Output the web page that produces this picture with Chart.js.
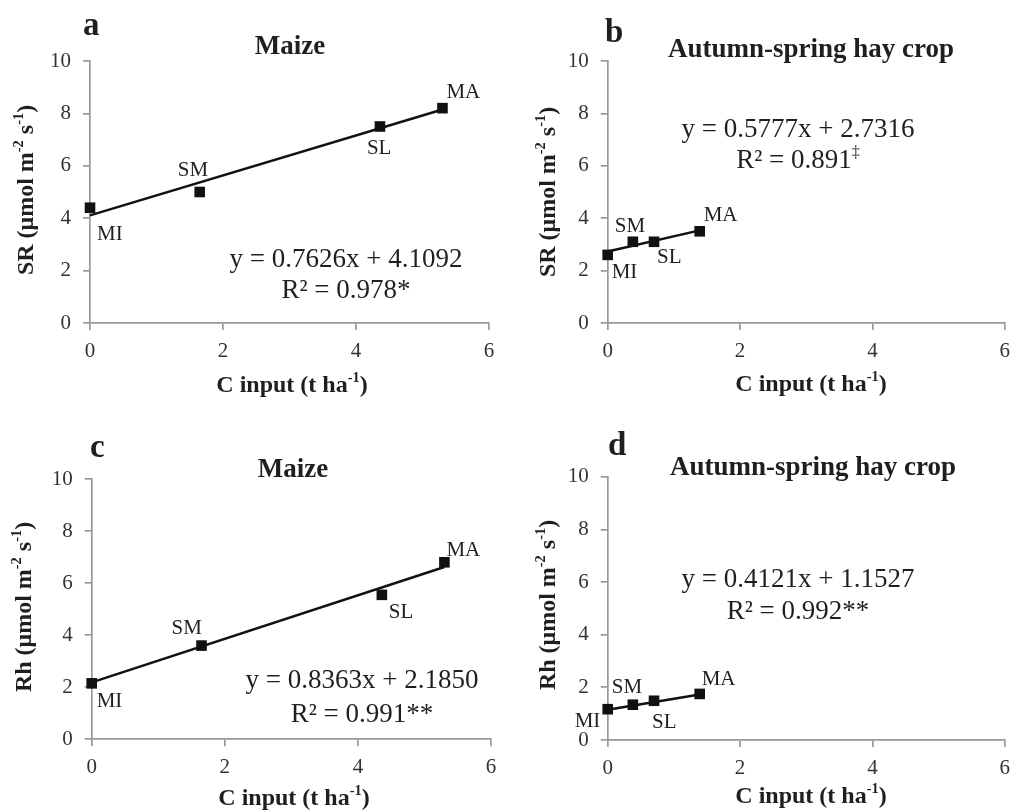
<!DOCTYPE html>
<html>
<head>
<meta charset="utf-8">
<script src="https://cdn.jsdelivr.net/npm/chart.js@4.4.0/dist/chart.umd.min.js"></script>
<style>
  body { margin: 0; background: #fff; }
  #wrap { position: relative; width: 1019px; height: 810px; }
  .panel { position: absolute; width: 509px; height: 405px; }
</style>
</head>
<body>
<div id="wrap">
  <div class="panel" style="left:0;top:0"><canvas id="pa" width="509" height="405"></canvas></div>
  <div class="panel" style="left:510px;top:0"><canvas id="pb" width="509" height="405"></canvas></div>
  <div class="panel" style="left:0;top:405px"><canvas id="pc" width="509" height="405"></canvas></div>
  <div class="panel" style="left:510px;top:405px"><canvas id="pd" width="509" height="405"></canvas></div>
</div>
<script>
// treatments and values
const treatments = ['MI', 'SM', 'SL', 'MA'];
const maizeInput = [0, 1.65, 4.36, 5.30];
const hayInput = [0, 0.38, 0.70, 1.39];
const maizeSR = [4.4, 5.0, 7.5, 8.2];
const haySR = [2.6, 3.1, 3.1, 3.5];
const maizeRh = [2.15, 3.6, 5.55, 6.8];
const hayRh = [1.17, 1.34, 1.49, 1.75];

// regression lines printed on each panel
const slopes = [0.7626, 0.5777, 0.8363, 0.4121];
const intercepts = [4.1092, 2.7316, 2.1850, 1.1527];
const r2Values = ['0.978', '0.891', '0.991', '0.992'];
const significance = ['*', '‡', '**', '**'];

const xTicks = [0, 2, 4, 6];
const yTicks = [0, 2, 4, 6, 8, 10];

const panels = [
  { id: 'pa', letter: 'a', title: 'Maize', yName: 'SR', xs: maizeInput, ys: maizeSR },
  { id: 'pb', letter: 'b', title: 'Autumn-spring hay crop', yName: 'SR', xs: hayInput, ys: haySR },
  { id: 'pc', letter: 'c', title: 'Maize', yName: 'Rh', xs: maizeInput, ys: maizeRh },
  { id: 'pd', letter: 'd', title: 'Autumn-spring hay crop', yName: 'Rh', xs: hayInput, ys: hayRh }
];

// pixel layout of each panel (canvas-local)
const frames = [
  { area: [90, 61, 489, 323], letter: [83, 35], title: [290, 54], yTitle: [33, 190], xTitle: [292, 392], eq: [346, 267, 298],
    labels: [[7, 32], [-22, -16], [-13, 27], [4, -10]] },
  { area: [97.7, 61, 501.7, 323], letter: [95, 42], title: [301, 57], yTitle: [45, 192], xTitle: [301, 391], eq: [288, 137, 168],
    labels: [[4, 23], [-18, -10], [3, 21], [4, -10]] },
  { area: [91.7, 74, 491, 334.3], letter: [90, 52], title: [293, 72], yTitle: [31, 202], xTitle: [294, 400], eq: [362, 283, 317],
    labels: [[5, 24], [-30, -12], [7, 23], [2, -6]] },
  { area: [97.7, 71.7, 502, 335], letter: [98, 50], title: [303, 70], yTitle: [45, 200], xTitle: [301, 398], eq: [288, 182, 214],
    labels: [[-33, 18], [-21, -12], [-2, 27], [2, -9]] }
];

const SERIF = '"Liberation Serif", "Times New Roman", serif';
const INK = '#1f1f1f';
const AXIS = '#999999';

function font(size, bold) {
  return (bold ? 'bold ' : '') + size + 'px ' + SERIF;
}

// draw text made of normal and superscript pieces
function drawRich(ctx, parts, x, y, size, bold, center) {
  let total = 0;
  parts.forEach(([t, sup]) => {
    ctx.font = font(sup ? size * 0.6 : size, bold);
    total += ctx.measureText(t).width;
  });
  let cx = center ? x - total / 2 : x;
  ctx.textAlign = 'left';
  ctx.textBaseline = 'alphabetic';
  parts.forEach(([t, sup]) => {
    ctx.font = font(sup ? size * 0.6 : size, bold);
    ctx.fillText(t, cx, sup ? y - size * 0.4 : y);
    cx += ctx.measureText(t).width;
  });
}

function decor(i) {
  const p = panels[i];
  const f = frames[i];
  return {
    id: 'decor' + i,
    afterDraw(chart) {
      const ctx = chart.ctx;
      const xs = chart.scales.x, ys = chart.scales.y;
      ctx.save();
      ctx.fillStyle = INK;

      ctx.font = font(33, true);
      ctx.textAlign = 'left';
      ctx.textBaseline = 'alphabetic';
      ctx.fillText(p.letter, f.letter[0], f.letter[1]);

      ctx.font = font(27, true);
      ctx.textAlign = 'center';
      ctx.fillText(p.title, f.title[0], f.title[1]);

      // axis titles
      drawRich(ctx, [['C input (t ha', false], ['-1', true], [')', false]], f.xTitle[0], f.xTitle[1], 24, true, true);
      ctx.save();
      ctx.translate(f.yTitle[0], f.yTitle[1]);
      ctx.rotate(-Math.PI / 2);
      drawRich(ctx, [[p.yName + ' (\u03bcmol m', false], ['-2', true], [' s', false], ['-1', true], [')', false]], 0, 0, 24, true, true);
      ctx.restore();

      // point labels
      ctx.font = font(21, false);
      ctx.textAlign = 'left';
      treatments.forEach((t, k) => {
        const px = xs.getPixelForValue(p.xs[k]);
        const py = ys.getPixelForValue(p.ys[k]);
        ctx.fillText(t, px + f.labels[k][0], py + f.labels[k][1]);
      });

      // regression equation
      ctx.font = font(27, false);
      ctx.textAlign = 'center';
      ctx.fillText('y = ' + slopes[i].toFixed(4) + 'x + ' + intercepts[i].toFixed(4), f.eq[0], f.eq[1]);
      const sig = significance[i];
      if (sig === '‡') {
        drawRich(ctx, [['R\u00b2 = ' + r2Values[i], false], [sig, true]], f.eq[0], f.eq[2], 27, false, true);
      } else {
        drawRich(ctx, [['R\u00b2 = ' + r2Values[i] + sig, false]], f.eq[0], f.eq[2], 27, false, true);
      }
      ctx.restore();
    }
  };
}

panels.forEach((p, i) => {
  const f = frames[i];
  const canvas = document.getElementById(p.id);
  const W = canvas.width, H = canvas.height;
  const xMax = Math.max(...p.xs);
  const points = p.xs.map((x, k) => ({ x: x, y: p.ys[k] }));
  const trend = [
    { x: 0, y: intercepts[i] },
    { x: xMax, y: slopes[i] * xMax + intercepts[i] }
  ];

  const axisGrid = {
    drawOnChartArea: false,
    drawTicks: true,
    tickLength: 7,
    color: AXIS,
    lineWidth: 1.7
  };
  const tickFont = { family: SERIF, size: 21 };

  new Chart(canvas, {
    type: 'scatter',
    data: {
      datasets: [
        {
          data: points,
          pointStyle: 'rect',
          pointRadius: 7.5,
          backgroundColor: '#111',
          borderWidth: 0,
          clip: false
        },
        {
          data: trend,
          showLine: true,
          pointRadius: 0,
          borderColor: '#111',
          borderWidth: 2.5,
          clip: false
        }
      ]
    },
    options: {
      responsive: false,
      animation: false,
      events: [],
      layout: { padding: { left: 0, top: f.area[1], right: W - f.area[2], bottom: 0 } },
      plugins: { legend: { display: false }, tooltip: { enabled: false } },
      scales: {
        x: {
          type: 'linear',
          min: 0, max: 6,
          afterBuildTicks: (s) => { s.ticks = xTicks.map(v => ({ value: v })); },
          afterFit: (s) => { s.height = H - f.area[3]; },
          grid: axisGrid,
          border: { color: AXIS, width: 1.7 },
          ticks: { font: tickFont, color: '#333', padding: 9, maxRotation: 0, autoSkip: false }
        },
        y: {
          type: 'linear',
          min: 0, max: 10,
          afterBuildTicks: (s) => { s.ticks = yTicks.map(v => ({ value: v })); },
          afterFit: (s) => { s.width = f.area[0]; },
          grid: axisGrid,
          border: { color: AXIS, width: 1.7 },
          ticks: { font: tickFont, color: '#333', padding: 12, autoSkip: false }
        }
      }
    },
    plugins: [decor(i)]
  });
});
</script>
</body>
</html>
